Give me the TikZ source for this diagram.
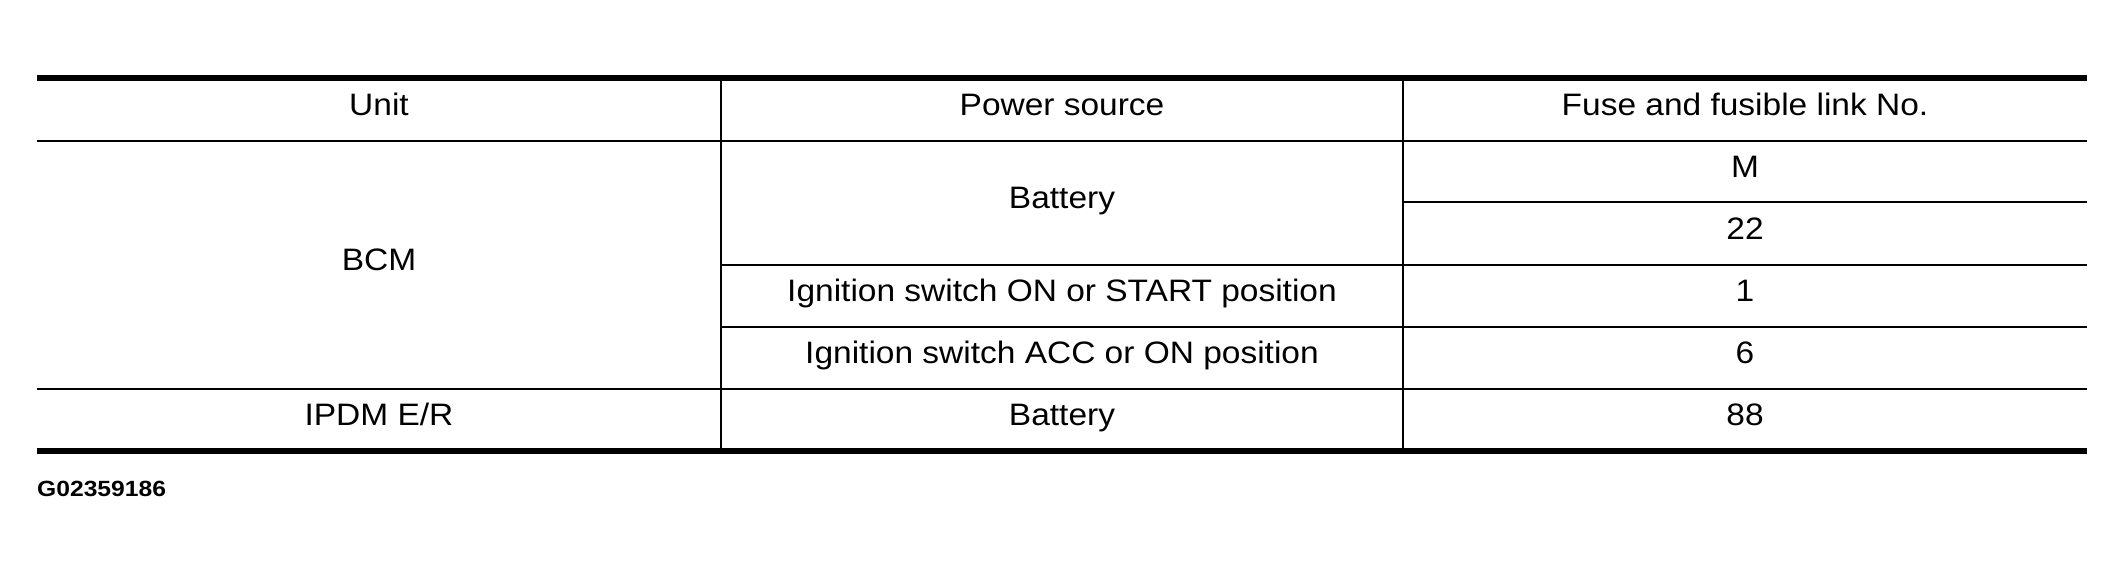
\documentclass[tikz,border=0pt]{standalone}
\usepackage{fontspec}
\setmainfont{Liberation Sans}[FakeStretch=1.08]
\newfontfamily\labelfont{Liberation Sans}[FakeStretch=1.12]
\begin{document}
\begin{tikzpicture}[x=1pt,y=-1pt,
  thickrule/.style={line width=6pt},
  thinrule/.style={line width=2.5pt},
  vrule/.style={line width=2.2pt},
  cell/.style={anchor=base,inner sep=0pt,font=\fontsize{31}{37}\selectfont},
  tag/.style={anchor=base west,inner sep=0pt,font=\labelfont\bfseries\fontsize{22}{26}\selectfont}]
\useasboundingbox (0,0) rectangle (2124,573);
% rules
\draw[thickrule] (37,78) -- (2087,78);
\draw[thickrule] (37,451) -- (2087,451);
\draw[thinrule] (37,141) -- (2087,141);
\draw[thinrule] (1403,202) -- (2087,202);
\draw[thinrule] (721,265) -- (2087,265);
\draw[thinrule] (721,327) -- (2087,327);
\draw[thinrule] (37,389) -- (2087,389);
\draw[vrule] (721,81) -- (721,448);
\draw[vrule] (1403,81) -- (1403,448);
% header
\node[cell] (hunit) at (379,115) {Unit};
\node[cell] (hpower) at (1062,115) {Power source};
\node[cell] (hfuse) at (1745,115) {Fuse and fusible link No.};
% BCM
\node[cell] (bcm) at (379,270) {BCM};
\node[cell] (bat1) at (1062,208) {Battery};
\node[cell] (fm) at (1745,177) {M};
\node[cell] (f22) at (1745,239) {22};
\node[cell] (ignon) at (1062,301) {Ignition switch ON or START position};
\node[cell] (f1) at (1745,301) {1};
\node[cell] (ignacc) at (1062,363) {Ignition switch ACC or ON position};
\node[cell] (f6) at (1745,363) {6};
% IPDM
\node[cell] (ipdm) at (379,425) {IPDM E/R};
\node[cell] (bat2) at (1062,425) {Battery};
\node[cell] (f88) at (1745,425) {88};
% figure code
\node[tag] (code) at (37,496) {G02359186};
\end{tikzpicture}
\end{document}
